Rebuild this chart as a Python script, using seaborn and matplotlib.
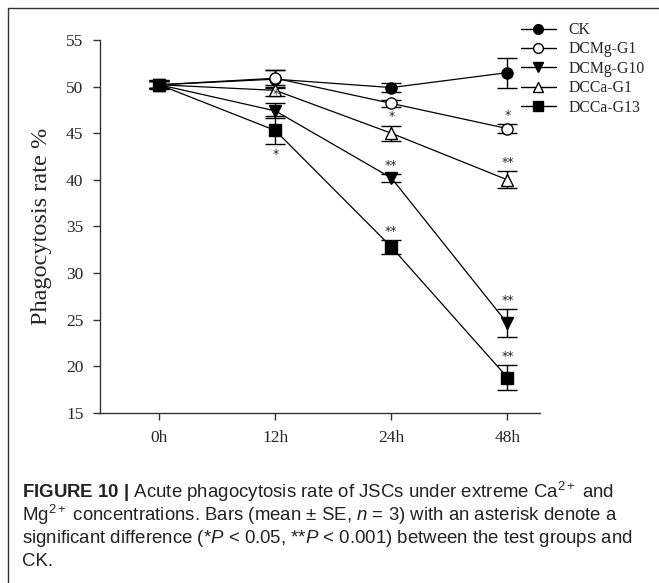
import matplotlib
matplotlib.use("Agg")
import matplotlib.pyplot as plt
import seaborn as sns
import pandas as pd
from matplotlib.lines import Line2D
from matplotlib.patches import Rectangle

# ---- data ----
times = ["0h", "12h", "24h", "48h"]
groups = ["CK", "DCMg-G1", "DCMg-G10", "DCCa-G1", "DCCa-G13"]
ck = [50.2, 50.8, 49.9, 51.5]
dcmg_g1 = [50.2, 50.9, 48.2, 45.5]
dcmg_g10 = [50.2, 47.4, 40.2, 24.6]
dcca_g1 = [50.2, 49.6, 45.0, 40.0]
dcca_g13 = [50.2, 45.3, 32.8, 18.8]
ck_se = [0.5, 1.0, 0.5, 1.6]
dcmg_g1_se = [0.4, 0.9, 0.4, 0.5]
dcmg_g10_se = [0.4, 0.8, 0.4, 1.5]
dcca_g1_se = [0.4, 0.6, 0.8, 0.9]
dcca_g13_se = [0.4, 1.5, 0.7, 1.3]
# significance marks: (time index, group, text, side)
star_time = [1, 1, 2, 2, 2, 3, 3, 3, 3]
star_group = ["DCMg-G10", "DCCa-G13", "DCCa-G1", "DCMg-G10", "DCCa-G13",
              "DCMg-G1", "DCCa-G1", "DCMg-G10", "DCCa-G13"]
star_text = ["*", "*", "*", "**", "**", "*", "**", "**", "**"]
star_side = ["above", "below", "above", "above", "above",
             "above", "above", "above", "above"]
y_ticks = [15, 20, 25, 30, 35, 40, 45, 50, 55]
caption_lines = [
    r"$\mathbf{FIGURE\ 10\ |}$ Acute phagocytosis rate of JSCs under extreme Ca$^{2+}$ and",
    r"Mg$^{2+}$ concentrations. Bars (mean $\pm$ SE, $n$ = 3) with an asterisk denote a",
    r"significant difference (*$P$ < 0.05, **$P$ < 0.001) between the test groups and",
    r"CK.",
]

values = {"CK": ck, "DCMg-G1": dcmg_g1, "DCMg-G10": dcmg_g10,
          "DCCa-G1": dcca_g1, "DCCa-G13": dcca_g13}
errors = {"CK": ck_se, "DCMg-G1": dcmg_g1_se, "DCMg-G10": dcmg_g10_se,
          "DCCa-G1": dcca_g1_se, "DCCa-G13": dcca_g13_se}
markers = {"CK": "o", "DCMg-G1": "o", "DCMg-G10": "v", "DCCa-G1": "^", "DCCa-G13": "s"}
faces = {"CK": "black", "DCMg-G1": "white", "DCMg-G10": "black",
         "DCCa-G1": "white", "DCCa-G13": "black"}

rows = []
for g in groups:
    for i, t in enumerate(times):
        rows.append({"group": g, "pos": i, "time": t,
                     "value": values[g][i], "se": errors[g][i]})
df = pd.DataFrame(rows)

sns.set_theme(style="ticks")
plt.rcParams["font.family"] = ["Liberation Serif", "DejaVu Serif"]
plt.rcParams["mathtext.fontset"] = "custom"
plt.rcParams["mathtext.rm"] = "Liberation Sans"
plt.rcParams["mathtext.it"] = "Liberation Sans:italic"
plt.rcParams["mathtext.bf"] = "Liberation Sans:bold"

fig = plt.figure(figsize=(6.59, 5.83), dpi=100)
ax = fig.add_axes([100 / 659, 1 - 413 / 583, 440 / 659, 373 / 583])

for g in groups:
    sub = df[df["group"] == g]
    ax.errorbar(sub["pos"], sub["value"], yerr=sub["se"], fmt="none",
                ecolor="black", elinewidth=1, capsize=7, capthick=1, zorder=2)
    sns.lineplot(data=sub, x="pos", y="value", ax=ax, color="black",
                 linewidth=0.9, marker=markers[g], markersize=8,
                 markerfacecolor=faces[g], markeredgecolor="black",
                 markeredgewidth=1, errorbar=None, legend=False, zorder=3)

for t, g, s, side in zip(star_time, star_group, star_text, star_side):
    v = values[g][t]
    e = errors[g][t]
    if side == "above":
        ax.text(t, v + e + 0.25, s, ha="center", va="bottom", fontsize=9,
                family="DejaVu Sans")
    else:
        ax.text(t, v - e - 0.35, s, ha="center", va="top", fontsize=9,
                family="DejaVu Sans")

ax.set_xlim(-0.51, 3.28)
ax.set_ylim(15, 55)
ax.set_xticks(range(len(times)))
ax.set_xticklabels(times)
ax.set_yticks(y_ticks)
ax.set_xlabel("")
ax.set_ylabel("Phagocytosis rate %", fontsize=17.5, labelpad=10)
ax.tick_params(axis="both", labelsize=12.5, direction="out", length=5,
               width=1, color="#333333", pad=7)
for sp in ["top", "right"]:
    ax.spines[sp].set_visible(False)
for sp in ["left", "bottom"]:
    ax.spines[sp].set_color("#333333")
    ax.spines[sp].set_linewidth(1)

handles = [Line2D([0], [0], color="black", lw=1, marker=markers[g], markersize=7,
                  markerfacecolor=faces[g], markeredgecolor="black") for g in groups]
fig.legend(handles, groups, loc="upper left", bbox_to_anchor=(521 / 659, 1 - 22 / 583),
           frameon=False, fontsize=11.3, handlelength=2.2, handletextpad=0.8,
           labelspacing=0.22, borderpad=0, borderaxespad=0)

# figure frame
fig.patches.append(Rectangle((8 / 659, -0.1), 1.2, 1 - 8 / 583 + 0.1,
                             transform=fig.transFigure, fill=False,
                             edgecolor="#333333", linewidth=1))

for k, line in enumerate(caption_lines):
    fig.text(22 / 659, 1 - (492 + 23.3 * k) / 583, line, ha="left", va="center",
             fontsize=13.4, family=["Liberation Sans", "DejaVu Sans"], color="#222222")

fig.savefig("out.png", dpi=100)
